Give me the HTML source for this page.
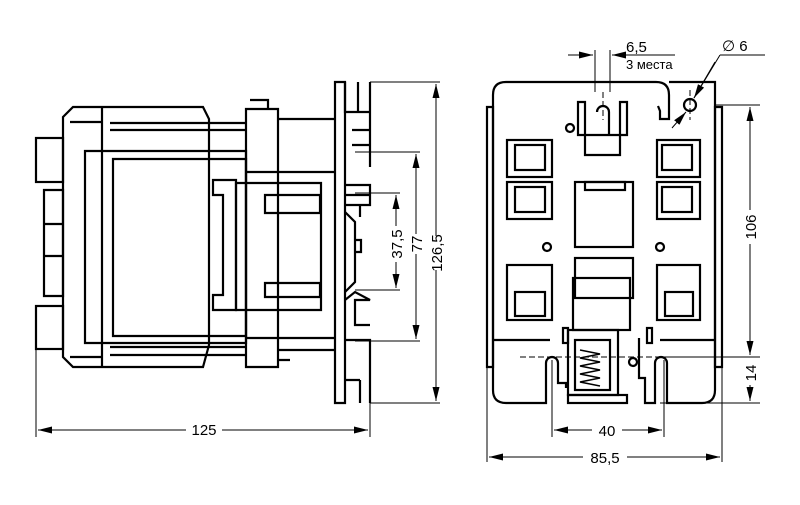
<!DOCTYPE html>
<html><head><style>body{margin:0;background:#fff}svg{display:block}text{font-family:"Liberation Sans",sans-serif;font-size:15px;fill:#000}</style></head><body>
<svg width="800" height="505" viewBox="0 0 800 505" xmlns="http://www.w3.org/2000/svg">
<defs><marker id="a" viewBox="0 0 14 8" refX="14" refY="4" markerWidth="14" markerHeight="8" orient="auto"><path d="M0,0.5 L14,4 L0,7.5 z" fill="#000"/></marker></defs>
<g fill="none" stroke="#000" stroke-width="2.2">
<rect x="36" y="138" width="27" height="44"/>
<rect x="36" y="306" width="27" height="43"/>
<path d="M44,190 h19 v106 h-19 z M44,224 h19 M44,256 h19"/>
<path d="M63,117 l10,-10 h130 l6,12 v226 l-6,22 h-130 l-10,-10 z"/>
<path d="M102,107 v260 M70,122 h33 M70,357 h33"/>
<path d="M85,151 h161 v192 h-161 z"/>
<path d="M113,159 h133 v177 h-133 z"/>
<path d="M110,123 h136 M110,130 h136 M110,347 h136 M110,355 h136"/>
<path d="M246,109 h32 v258 h-32 z M246,172 h32 M246,338 h32 M250,100 h18 v9"/>
<path d="M278,119 h57 M278,172 h57 M278,338 h57 M278,350 h57 M278,360 h12"/>
<path d="M213,180 h23 v130 h-23 v-15 h10 v-100 h-10 z"/>
<path d="M236,183 h85 v127 h-85 z"/>
<path d="M265,195 h55 v18 h-55 z M265,283 h55 v14 h-55 z"/>
<path d="M335,82 h10 v321 h-10 z"/>
<path d="M345,82 v30 h25 v-30 M358,82 v30 M345,112 h25 v55 M352,130 h18 M352,145 h18 M345,185 h25 v20 h-25 M345,195 h25 M360,205 v12"/>
<path d="M345,212 l10,10 v60 l-10,10 M355,240 h6 v12 h-6"/>
<path d="M345,300 l10,-8 l15,8 h-15 v25 h15 M345,340 h25 v63 M360,380 v23 M345,380 h15"/>
<path d="M493,95 q0,-13 13,-13 h150 q13,0 13,13 v24 h-9 v-8 l-2,-5 M669,82 h46 v308 q0,13 -13,13 h-35 v-40 a5,5 0 0 0 -12,0 v40 h-10 v-25 h-6 v-40 M493,95 v295 q0,13 13,13 h40 v-40 a5,5 0 0 1 12,0 v20 h8 v5"/>
<path d="M487,107 h6 v260 h-6 z M715,107 h7 v260 h-7 z M493,340 h57 M660,340 h55"/>
<path d="M578,102 h7 v33 h-7 z M620,102 h7 v33 h-7 z M597,112 a6,6 0 0 1 12,0 v23 M585,135 h35 v20 h-35 z"/>
<circle cx="570" cy="128" r="4"/>
<circle cx="690" cy="105" r="6"/>
<rect x="507" y="140" width="45" height="37"/><rect x="515" y="145" width="30" height="25"/>
<rect x="507" y="182" width="45" height="37"/><rect x="515" y="187" width="30" height="25"/>
<rect x="657" y="140" width="43" height="37"/><rect x="662" y="145" width="30" height="25"/>
<rect x="657" y="182" width="43" height="37"/><rect x="662" y="187" width="30" height="25"/>
<rect x="507" y="265" width="45" height="55"/><rect x="515" y="292" width="30" height="24"/>
<rect x="657" y="265" width="43" height="55"/><rect x="665" y="292" width="28" height="24"/>
<rect x="575" y="182" width="58" height="65"/><rect x="585" y="182" width="40" height="8"/>
<circle cx="547" cy="247" r="4"/><circle cx="660" cy="247" r="4"/>
<rect x="575" y="258" width="58" height="40"/>
<rect x="573" y="278" width="57" height="52"/>
<rect x="568" y="330" width="50" height="65"/><rect x="575" y="340" width="35" height="50"/>
<path d="M580,350 l20,4 l-20,4 l20,4 l-20,4 l20,4 l-20,4 l20,4 l-20,4 l20,4" stroke-width="1.5"/>
<rect x="568" y="395" width="59" height="8"/>
<rect x="563" y="328" width="5" height="15"/><rect x="647" y="328" width="5" height="15"/>
<circle cx="633" cy="362" r="4"/>
</g>
<g fill="none" stroke="#000" stroke-width="1">
<path d="M370,82 H440 M370,403 H440 M355,152 H420 M355,341 H420 M355,193 H400 M355,290 H400 M36,349 V437 M370,403 V437"/>
<g marker-end="url(#a)">
<path d="M436,240 V84"/><path d="M436,240 V401"/>
<path d="M416,240 V154"/><path d="M416,240 V339"/>
<path d="M396,240 V195"/><path d="M396,240 V288"/>
<path d="M200,430 H38"/><path d="M200,430 H368"/>
<path d="M750,230 V107"/><path d="M750,230 V355"/>
<path d="M608,430 H554"/><path d="M608,430 H662"/>
<path d="M605,457 H489"/><path d="M605,457 H720"/>
<path d="M750,385 V401"/>
<path d="M568,55 H593"/><path d="M640,55 H612"/>
<path d="M715,62 L694,98"/><path d="M672,128 L686,112"/>
</g>
<path d="M715,105 H760 M670,357 H760 M660,403 H760 M552,360 V437 M664,360 V437 M487,367 V462 M722,367 V462"/>
<path d="M595,50 V92 M610,50 V92 M612,55 H675"/>
<path d="M720,55 H765 M720,55 L694,98"/>
<path d="M520,357 H700 M603,92 V120 M690,90 V120" stroke-dasharray="6,3"/>
</g>
<g fill="#fff"><rect x="428" y="236" width="16" height="34"/><rect x="408" y="234" width="16" height="20"/><rect x="388" y="226" width="16" height="36"/><rect x="186" y="420" width="36" height="18"/><rect x="742" y="210" width="16" height="34"/><rect x="742" y="362" width="16" height="22"/><rect x="592" y="420" width="30" height="18"/><rect x="583" y="448" width="44" height="18"/></g>
<text transform="translate(442,253) rotate(-90)" text-anchor="middle">126,5</text>
<text transform="translate(422,244) rotate(-90)" text-anchor="middle">77</text>
<text transform="translate(402,244) rotate(-90)" text-anchor="middle">37,5</text>
<text x="204" y="435" text-anchor="middle">125</text>
<text transform="translate(756,227) rotate(-90)" text-anchor="middle">106</text>
<text transform="translate(756,373) rotate(-90)" text-anchor="middle">14</text>
<text x="607" y="436" text-anchor="middle">40</text>
<text x="605" y="463" text-anchor="middle">85,5</text>
<text x="626" y="52">6,5</text>
<text x="626" y="69" style="font-size:13px">3 места</text>
<text x="722" y="51">∅ 6</text>
</svg>
</body></html>
